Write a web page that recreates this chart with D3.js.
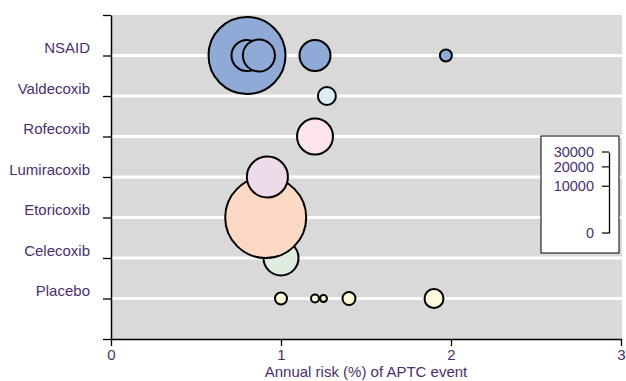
<!DOCTYPE html>
<html>
<head>
<meta charset="utf-8">
<script src="https://cdn.jsdelivr.net/npm/d3@7"></script>
<style>
  body { margin: 0; background: #fff; }
  svg text { font-family: "Liberation Sans", Arial, sans-serif; fill: #4a2f6e; }
</style>
</head>
<body>
<div id="chart"></div>
<script>
// ---- data ----
// rows listed bottom -> top, row index 1..7
const drugs = ["Placebo", "Celecoxib", "Etoricoxib", "Lumiracoxib", "Rofecoxib", "Valdecoxib", "NSAID"];
const drugColors = ["#fffbdc", "#deeddf", "#fcd9c5", "#eddbe9", "#fde3ea", "#ddeefa", "#8faad6"];

// one entry per bubble, in drawing order
const bubbleDrug     = ["Placebo", "Placebo", "Placebo", "Placebo", "Placebo",
                        "Celecoxib", "Etoricoxib", "Lumiracoxib", "Rofecoxib", "Valdecoxib",
                        "NSAID", "NSAID", "NSAID", "NSAID", "NSAID"];
const bubbleRisk     = [1.00, 1.20, 1.25, 1.40, 1.90,
                        1.00, 0.91, 0.92, 1.20, 1.27,
                        0.80, 0.80, 0.87, 1.20, 1.97];
const bubblePatients = [660, 290, 220, 770, 1650,
                        5600, 30000, 7700, 5900, 1480,
                        27100, 4400, 4700, 4400, 660];

const xTicks = [0, 1, 2, 3];
const sizeTicks = [0, 10000, 20000, 30000];
const xTitle = "Annual risk (%) of APTC event";

// ---- draw ----
const W = 626, H = 381;
const svg = d3.select("#chart").append("svg").attr("width", W).attr("height", H);

const x = d3.scaleLinear().domain([0, 3]).range([111, 621]);
const y = d3.scaleLinear().domain([0, 8]).range([339, 15]);
const r = d3.scaleSqrt().domain([0, 30000]).range([0, 40.5]);

// panel
svg.append("rect")
  .attr("x", 112).attr("y", 15)
  .attr("width", 510).attr("height", 324)
  .attr("fill", "#d9d9d9");

svg.append("g")
  .selectAll("line")
  .data(drugs)
  .join("line")
  .attr("x1", 112).attr("x2", 622)
  .attr("y1", (d, i) => y(i + 1)).attr("y2", (d, i) => y(i + 1))
  .attr("stroke", "#fff").attr("stroke-width", 3);

// bubbles
const bubbles = bubbleDrug.map((d, i) => ({ drug: d, risk: bubbleRisk[i], n: bubblePatients[i] }));
svg.append("g")
  .selectAll("circle")
  .data(bubbles)
  .join("circle")
  .attr("cx", d => x(d.risk))
  .attr("cy", d => y(drugs.indexOf(d.drug) + 1))
  .attr("r", d => r(d.n))
  .attr("fill", d => drugColors[drugs.indexOf(d.drug)])
  .attr("stroke", "#000").attr("stroke-width", 2);

// y axis
const yAxis = svg.append("g")
  .attr("transform", "translate(111,0)")
  .call(d3.axisLeft(y)
    .tickValues(d3.range(0, 9))
    .tickSize(8).tickSizeOuter(0)
    .tickFormat(v => (v >= 1 && v <= 7) ? drugs[v - 1] : ""));
yAxis.select(".domain").attr("stroke", "#000").attr("stroke-width", 1.5);
yAxis.selectAll(".tick line").attr("stroke", "#000").attr("stroke-width", 1.3);
yAxis.selectAll(".tick text")
  .attr("x", -21).attr("y", -3).attr("dy", 0)
  .attr("font-size", 15).attr("fill", "#4a2f6e");

// x axis
const xAxis = svg.append("g")
  .attr("transform", "translate(0,339)")
  .call(d3.axisBottom(x).tickValues(xTicks).tickSize(7).tickSizeOuter(0).tickFormat(d3.format("d")));
xAxis.select(".domain").attr("stroke", "#000").attr("stroke-width", 1.5);
xAxis.selectAll(".tick line").attr("stroke", "#000").attr("stroke-width", 1.3);
xAxis.selectAll(".tick text")
  .attr("y", 20.5).attr("dy", 0)
  .attr("font-size", 15).attr("fill", "#4a2f6e");

svg.append("text")
  .attr("x", 366).attr("y", 377)
  .attr("text-anchor", "middle")
  .attr("font-size", 15)
  .text(xTitle);

// size legend (diameter scale)
svg.append("rect")
  .attr("x", 541).attr("y", 136)
  .attr("width", 78).attr("height", 117)
  .attr("fill", "#fff").attr("stroke", "#000").attr("stroke-width", 1);

const diam = d3.scaleSqrt().domain([0, 30000]).range([0, 81]);
const legY = v => 233 - diam(v);
const legScale = d3.scaleLinear().domain([0, 30000]).range([233, 152]);
const leg = svg.append("g")
  .attr("transform", "translate(609,0)")
  .call(d3.axisLeft(legScale).tickValues(sizeTicks).tickSize(7).tickSizeOuter(0).tickFormat(d3.format("d")));
leg.selectAll(".tick").attr("transform", d => `translate(0,${legY(d)})`);
leg.select(".domain").attr("stroke", "#000").attr("stroke-width", 1.3);
leg.selectAll(".tick line").attr("stroke", "#000").attr("stroke-width", 1.2);
leg.selectAll(".tick text")
  .attr("x", -15).attr("dy", "0.34em")
  .attr("font-size", 14.5).attr("fill", "#4a2f6e");
</script>
</body>
</html>
